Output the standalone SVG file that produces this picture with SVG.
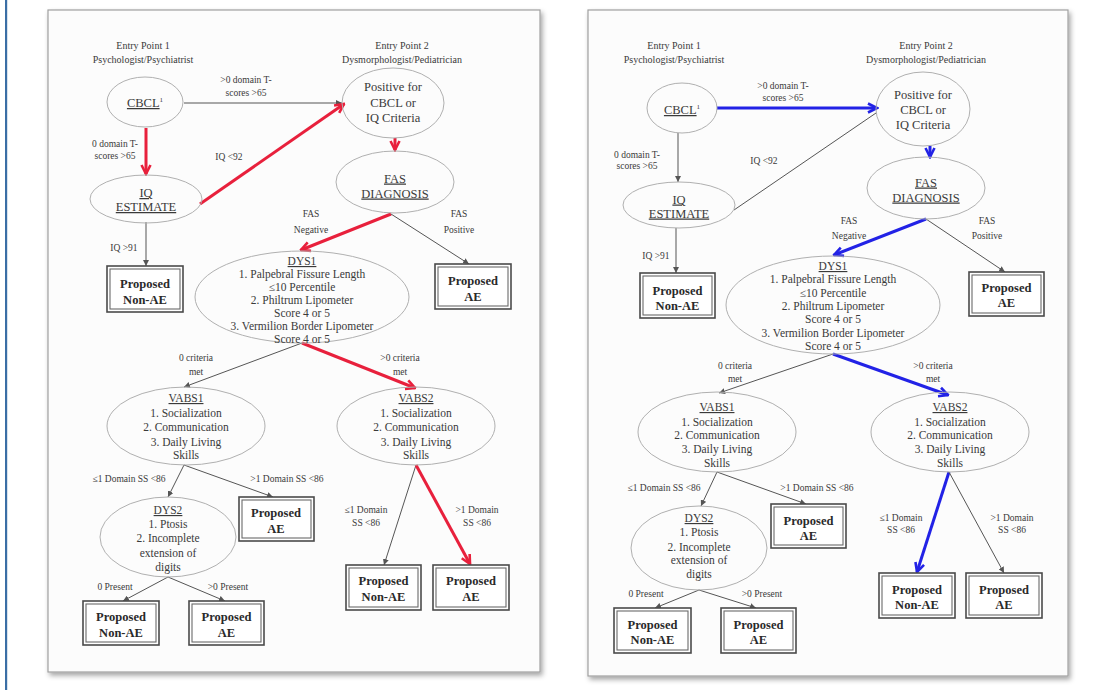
<svg xmlns="http://www.w3.org/2000/svg" width="1118" height="690" viewBox="0 0 1118 690">
<style>
.t{font-family:"Liberation Serif","Times New Roman",serif;fill:#3a3a3a;text-anchor:middle}
.s{font-size:9.5px}
.e{font-size:10px}
.m{font-size:11.5px}
.l{font-size:12.5px}
.b{font-family:"Liberation Serif","Times New Roman",serif;font-weight:bold;font-size:12.5px;fill:#2a2a2a;text-anchor:middle}
.u{text-decoration:underline}
.el{fill:none;stroke:#b0b0b0;stroke-width:1}
.bx{fill:#fff;stroke:#4a4a4a;stroke-width:1.6}
.bxi{fill:none;stroke:#6a6a6a;stroke-width:1.1}
.g{stroke:#555;stroke-width:1;fill:none}
.r{stroke:#e8203c;stroke-width:3;fill:none}
.bl{stroke:#2222e6;stroke-width:3;fill:none}
.panel{fill:#fcfcfc;stroke:#a0a0a0;stroke-width:1.2}
</style>
<defs>
<filter id="sh" x="-5%" y="-5%" width="115%" height="115%">
<feDropShadow dx="2" dy="3" stdDeviation="2.5" flood-color="#000" flood-opacity="0.35"/>
</filter>
<marker id="mg" viewBox="0 0 6 6" markerWidth="6" markerHeight="6" refX="6" refY="3" orient="auto" markerUnits="userSpaceOnUse">
<path d="M0,0 L6,3 L0,6 z" fill="#555"/>
</marker>
<marker id="mr" viewBox="0 0 12 12" markerWidth="12" markerHeight="12" refX="10.5" refY="6" orient="auto" markerUnits="userSpaceOnUse">
<path d="M1.5,1.5 L10.5,6 L1.5,10.5" fill="none" stroke="#e8203c" stroke-width="2.6"/>
</marker>
<marker id="mb" viewBox="0 0 12 12" markerWidth="12" markerHeight="12" refX="10.5" refY="6" orient="auto" markerUnits="userSpaceOnUse">
<path d="M1.5,1.5 L10.5,6 L1.5,10.5" fill="none" stroke="#2222e6" stroke-width="2.6"/>
</marker>
</defs>
<rect x="0" y="0" width="1118" height="690" fill="#fff"/>
<rect x="5" y="0" width="2.2" height="690" fill="#3a6ea5"/>

<!-- LEFT PANEL -->
<g id="left-panel">
<rect class="panel" x="48" y="10" width="492" height="662" filter="url(#sh)"/>
<g id="left-connectors">
<line class="g" x1="184" y1="103" x2="342" y2="103" marker-end="url(#mg)"/>
<line class="r" x1="146" y1="128" x2="146" y2="174" marker-end="url(#mr)"/>
<line class="r" x1="200" y1="204" x2="344" y2="104" marker-end="url(#mr)"/>
<line class="r" x1="395" y1="138" x2="395" y2="150" marker-end="url(#mr)"/>
<line class="r" x1="391" y1="214" x2="301" y2="250" marker-end="url(#mr)"/>
<line class="g" x1="391" y1="214" x2="469" y2="264" marker-end="url(#mg)"/>
<line class="g" x1="146" y1="222" x2="146" y2="266" marker-end="url(#mg)"/>
<line class="g" x1="302" y1="343" x2="184" y2="387" marker-end="url(#mg)"/>
<line class="r" x1="302" y1="343" x2="415" y2="388" marker-end="url(#mr)"/>
<line class="g" x1="184" y1="465" x2="168" y2="497" marker-end="url(#mg)"/>
<line class="g" x1="184" y1="465" x2="273" y2="497" marker-end="url(#mg)"/>
<line class="g" x1="168" y1="577" x2="123" y2="601" marker-end="url(#mg)"/>
<line class="g" x1="168" y1="577" x2="225" y2="601" marker-end="url(#mg)"/>
<line class="g" x1="416" y1="465" x2="384" y2="565" marker-end="url(#mg)"/>
<line class="r" x1="416" y1="465" x2="470" y2="564" marker-end="url(#mr)"/>
<text class="t s" x="246" y="82.5">&gt;0 domain T-</text>
<text class="t s" x="246" y="95.5">scores &gt;65</text>
<text class="t s" x="115" y="146.5">0 domain T-</text>
<text class="t s" x="115" y="158.5">scores &gt;65</text>
<text class="t s" x="229" y="159.5">IQ &lt;92</text>
<text class="t s" x="311" y="216.5">FAS</text>
<text class="t s" x="311" y="232.5">Negative</text>
<text class="t s" x="459" y="216.5">FAS</text>
<text class="t s" x="459" y="232.5">Positive</text>
<text class="t s" x="124" y="250.5">IQ &gt;91</text>
<text class="t s" x="196" y="360.5">0 criteria</text>
<text class="t s" x="196" y="374.5">met</text>
<text class="t s" x="400" y="360.5">&gt;0 criteria</text>
<text class="t s" x="400" y="374.5">met</text>
<text class="t s" x="129" y="481.5">≤1 Domain SS &lt;86</text>
<text class="t s" x="287" y="481.5">&gt;1 Domain SS &lt;86</text>
<text class="t s" x="115" y="589.5">0 Present</text>
<text class="t s" x="228" y="589.5">&gt;0 Present</text>
<text class="t s" x="366" y="512.5">≤1 Domain</text>
<text class="t s" x="366" y="525.5">SS &lt;86</text>
<text class="t s" x="477" y="512.5">&gt;1 Domain</text>
<text class="t s" x="477" y="525.5">SS &lt;86</text>
</g>
<g id="L-entry1"><text class="t e" x="143" y="48.5">Entry Point 1</text><text class="t e" x="143" y="62.5">Psychologist/Psychiatrist</text></g>
<g id="L-entry2"><text class="t e" x="402" y="48.5">Entry Point 2</text><text class="t e" x="402" y="62.5">Dysmorphologist/Pediatrician</text></g>
<g id="L-cbcl"><ellipse class="el" cx="145" cy="102" rx="38" ry="25"/><text class="t l" x="145" y="107"><tspan class="u">CBCL</tspan><tspan font-size="7" dy="-5">1</tspan></text></g>
<g id="L-positive"><ellipse class="el" cx="393" cy="103" rx="51" ry="35"/><text class="t l" x="393" y="91">Positive for</text><text class="t l" x="393" y="107">CBCL or</text><text class="t l" x="393" y="122">IQ Criteria</text></g>
<g id="L-iq"><ellipse class="el" cx="146" cy="199" rx="56" ry="24"/><text class="t l u" x="146" y="197">IQ</text><text class="t l u" x="146" y="211">ESTIMATE</text></g>
<g id="L-fas"><ellipse class="el" cx="395" cy="182" rx="59" ry="31"/><text class="t l u" x="395" y="182.5">FAS</text><text class="t l u" x="395" y="197.5">DIAGNOSIS</text></g>
<g id="L-nonae1"><rect class="bx" x="107" y="266" width="76" height="46"/><rect class="bxi" x="110" y="269" width="70" height="40"/><text class="b" x="145" y="287.5">Proposed</text><text class="b" x="145" y="303.5">Non-AE</text></g>
<g id="L-ae1"><rect class="bx" x="435" y="264" width="76" height="45"/><rect class="bxi" x="438" y="267" width="70" height="39"/><text class="b" x="473" y="284.5">Proposed</text><text class="b" x="473" y="300.5">AE</text></g>
<g id="L-dys1"><ellipse class="el" cx="302" cy="297" rx="107" ry="46"/>
<text class="t m u" x="302" y="265">DYS1</text>
<text class="t m" x="302" y="278">1. Palpebral Fissure Length</text>
<text class="t m" x="302" y="291">≤10 Percentile</text>
<text class="t m" x="302" y="304">2. Philtrum Lipometer</text>
<text class="t m" x="302" y="317">Score 4 or 5</text>
<text class="t m" x="302" y="330">3. Vermilion Border Lipometer</text>
<text class="t m" x="302" y="343">Score 4 or 5</text></g>
<g id="L-vabs1"><ellipse class="el" cx="186" cy="426" rx="79" ry="39"/>
<text class="t m u" x="186" y="402">VABS1</text>
<text class="t m" x="186" y="417">1. Socialization</text>
<text class="t m" x="186" y="431">2. Communication</text>
<text class="t m" x="186" y="446">3. Daily Living</text>
<text class="t m" x="186" y="459">Skills</text></g>
<g id="L-vabs2"><ellipse class="el" cx="416" cy="426" rx="79" ry="39"/>
<text class="t m u" x="416" y="402">VABS2</text>
<text class="t m" x="416" y="417">1. Socialization</text>
<text class="t m" x="416" y="431">2. Communication</text>
<text class="t m" x="416" y="446">3. Daily Living</text>
<text class="t m" x="416" y="459">Skills</text></g>
<g id="L-dys2"><ellipse class="el" cx="168" cy="537" rx="68" ry="40"/>
<text class="t m u" x="168" y="514">DYS2</text>
<text class="t m" x="168" y="528">1. Ptosis</text>
<text class="t m" x="168" y="542">2. Incomplete</text>
<text class="t m" x="168" y="557">extension of</text>
<text class="t m" x="168" y="571">digits</text></g>
<g id="L-ae2"><rect class="bx" x="239" y="497" width="75" height="44"/><rect class="bxi" x="242" y="500" width="69" height="38"/><text class="b" x="276" y="516.5">Proposed</text><text class="b" x="276" y="532.5">AE</text></g>
<g id="L-nonae2"><rect class="bx" x="83" y="601" width="76" height="44"/><rect class="bxi" x="86" y="604" width="70" height="38"/><text class="b" x="121" y="620.5">Proposed</text><text class="b" x="121" y="636.5">Non-AE</text></g>
<g id="L-ae3"><rect class="bx" x="189" y="601" width="75" height="44"/><rect class="bxi" x="192" y="604" width="69" height="38"/><text class="b" x="226.5" y="620.5">Proposed</text><text class="b" x="226.5" y="636.5">AE</text></g>
<g id="L-nonae3"><rect class="bx" x="346" y="565" width="75" height="45"/><rect class="bxi" x="349" y="568" width="69" height="39"/><text class="b" x="383.5" y="585">Proposed</text><text class="b" x="383.5" y="601">Non-AE</text></g>
<g id="L-ae4"><rect class="bx" x="433" y="565" width="76" height="45"/><rect class="bxi" x="436" y="568" width="70" height="39"/><text class="b" x="471" y="585">Proposed</text><text class="b" x="471" y="601">AE</text></g>
</g>

<!-- RIGHT PANEL -->
<g id="right-panel">
<rect class="panel" x="588" y="10" width="480" height="666" filter="url(#sh)"/>
<g id="right-connectors">
<line class="bl" x1="717" y1="108" x2="877" y2="108" marker-end="url(#mb)"/>
<line class="g" x1="678" y1="133" x2="678" y2="182" marker-end="url(#mg)"/>
<line class="g" x1="734" y1="210" x2="876" y2="113"/>
<line class="bl" x1="930" y1="146" x2="930" y2="157" marker-end="url(#mb)"/>
<line class="bl" x1="926" y1="219" x2="834" y2="255" marker-end="url(#mb)"/>
<line class="g" x1="926" y1="219" x2="1005" y2="272" marker-end="url(#mg)"/>
<line class="g" x1="676" y1="228" x2="676" y2="273" marker-end="url(#mg)"/>
<line class="g" x1="833" y1="354" x2="719" y2="393" marker-end="url(#mg)"/>
<line class="bl" x1="833" y1="354" x2="948" y2="395" marker-end="url(#mb)"/>
<line class="g" x1="717" y1="472" x2="701" y2="506" marker-end="url(#mg)"/>
<line class="g" x1="717" y1="472" x2="806" y2="504" marker-end="url(#mg)"/>
<line class="g" x1="699" y1="590" x2="655" y2="608" marker-end="url(#mg)"/>
<line class="g" x1="699" y1="590" x2="756" y2="608" marker-end="url(#mg)"/>
<line class="bl" x1="949" y1="472" x2="917" y2="572" marker-end="url(#mb)"/>
<line class="g" x1="949" y1="472" x2="1004" y2="573" marker-end="url(#mg)"/>
<text class="t s" x="783" y="88.5">&gt;0 domain T-</text>
<text class="t s" x="783" y="100.5">scores &gt;65</text>
<text class="t s" x="637" y="157.5">0 domain T-</text>
<text class="t s" x="637" y="168.5">scores &gt;65</text>
<text class="t s" x="764" y="163.5">IQ &lt;92</text>
<text class="t s" x="849" y="223.5">FAS</text>
<text class="t s" x="849" y="238.5">Negative</text>
<text class="t s" x="987" y="223.5">FAS</text>
<text class="t s" x="987" y="238.5">Positive</text>
<text class="t s" x="656" y="258.5">IQ &gt;91</text>
<text class="t s" x="735" y="368.5">0 criteria</text>
<text class="t s" x="735" y="381.5">met</text>
<text class="t s" x="933" y="368.5">&gt;0 criteria</text>
<text class="t s" x="933" y="381.5">met</text>
<text class="t s" x="664" y="490.5">≤1 Domain SS &lt;86</text>
<text class="t s" x="817" y="490.5">&gt;1 Domain SS &lt;86</text>
<text class="t s" x="646" y="596.5">0 Present</text>
<text class="t s" x="762" y="596.5">&gt;0 Present</text>
<text class="t s" x="901" y="520.5">≤1 Domain</text>
<text class="t s" x="901" y="532.5">SS &lt;86</text>
<text class="t s" x="1012" y="520.5">&gt;1 Domain</text>
<text class="t s" x="1012" y="532.5">SS &lt;86</text>
</g>
<g id="R-entry1"><text class="t e" x="674" y="48.5">Entry Point 1</text><text class="t e" x="674" y="62.5">Psychologist/Psychiatrist</text></g>
<g id="R-entry2"><text class="t e" x="926" y="48.5">Entry Point 2</text><text class="t e" x="926" y="62.5">Dysmorphologist/Pediatrician</text></g>
<g id="R-cbcl"><ellipse class="el" cx="682" cy="108" rx="35" ry="25"/><text class="t l" x="682" y="114"><tspan class="u">CBCL</tspan><tspan font-size="7" dy="-5">1</tspan></text></g>
<g id="R-positive"><ellipse class="el" cx="923" cy="109" rx="47" ry="37"/><text class="t l" x="923" y="99">Positive for</text><text class="t l" x="923" y="114">CBCL or</text><text class="t l" x="923" y="129">IQ Criteria</text></g>
<g id="R-iq"><ellipse class="el" cx="679" cy="205" rx="56" ry="23"/><text class="t l u" x="679" y="203.5">IQ</text><text class="t l u" x="679" y="217.5">ESTIMATE</text></g>
<g id="R-fas"><ellipse class="el" cx="926" cy="188" rx="59" ry="31"/><text class="t l u" x="926" y="186.5">FAS</text><text class="t l u" x="926" y="201.5">DIAGNOSIS</text></g>
<g id="R-nonae1"><rect class="bx" x="640" y="273" width="75" height="45"/><rect class="bxi" x="643" y="276" width="69" height="39"/><text class="b" x="677.5" y="294.5">Proposed</text><text class="b" x="677.5" y="310">Non-AE</text></g>
<g id="R-ae1"><rect class="bx" x="969" y="272" width="75" height="44"/><rect class="bxi" x="972" y="275" width="69" height="38"/><text class="b" x="1006.5" y="291.5">Proposed</text><text class="b" x="1006.5" y="307">AE</text></g>
<g id="R-dys1"><ellipse class="el" cx="833" cy="305" rx="107" ry="49"/>
<text class="t m u" x="833" y="270">DYS1</text>
<text class="t m" x="833" y="283">1. Palpebral Fissure Length</text>
<text class="t m" x="833" y="297">≤10 Percentile</text>
<text class="t m" x="833" y="310">2. Philtrum Lipometer</text>
<text class="t m" x="833" y="323">Score 4 or 5</text>
<text class="t m" x="833" y="337">3. Vermilion Border Lipometer</text>
<text class="t m" x="833" y="350">Score 4 or 5</text></g>
<g id="R-vabs1"><ellipse class="el" cx="717" cy="432" rx="79" ry="40"/>
<text class="t m u" x="717" y="411">VABS1</text>
<text class="t m" x="717" y="426">1. Socialization</text>
<text class="t m" x="717" y="439">2. Communication</text>
<text class="t m" x="717" y="453">3. Daily Living</text>
<text class="t m" x="717" y="467">Skills</text></g>
<g id="R-vabs2"><ellipse class="el" cx="950" cy="432" rx="79" ry="40"/>
<text class="t m u" x="950" y="411">VABS2</text>
<text class="t m" x="950" y="426">1. Socialization</text>
<text class="t m" x="950" y="439">2. Communication</text>
<text class="t m" x="950" y="453">3. Daily Living</text>
<text class="t m" x="950" y="467">Skills</text></g>
<g id="R-dys2"><ellipse class="el" cx="699" cy="548" rx="68" ry="42"/>
<text class="t m u" x="699" y="522">DYS2</text>
<text class="t m" x="699" y="536">1. Ptosis</text>
<text class="t m" x="699" y="551">2. Incomplete</text>
<text class="t m" x="699" y="564">extension of</text>
<text class="t m" x="699" y="578">digits</text></g>
<g id="R-ae2"><rect class="bx" x="771" y="504" width="75" height="44"/><rect class="bxi" x="774" y="507" width="69" height="38"/><text class="b" x="808.5" y="524.5">Proposed</text><text class="b" x="808.5" y="540">AE</text></g>
<g id="R-nonae2"><rect class="bx" x="614" y="608" width="77" height="45"/><rect class="bxi" x="617" y="611" width="71" height="39"/><text class="b" x="652.5" y="628.5">Proposed</text><text class="b" x="652.5" y="644">Non-AE</text></g>
<g id="R-ae3"><rect class="bx" x="721" y="608" width="75" height="45"/><rect class="bxi" x="724" y="611" width="69" height="39"/><text class="b" x="758.5" y="628.5">Proposed</text><text class="b" x="758.5" y="644">AE</text></g>
<g id="R-nonae3"><rect class="bx" x="879" y="573" width="76" height="45"/><rect class="bxi" x="882" y="576" width="70" height="39"/><text class="b" x="917" y="593.5">Proposed</text><text class="b" x="917" y="609">Non-AE</text></g>
<g id="R-ae4"><rect class="bx" x="966" y="573" width="76" height="45"/><rect class="bxi" x="969" y="576" width="70" height="39"/><text class="b" x="1004" y="593.5">Proposed</text><text class="b" x="1004" y="609">AE</text></g>
</g>
</svg>
